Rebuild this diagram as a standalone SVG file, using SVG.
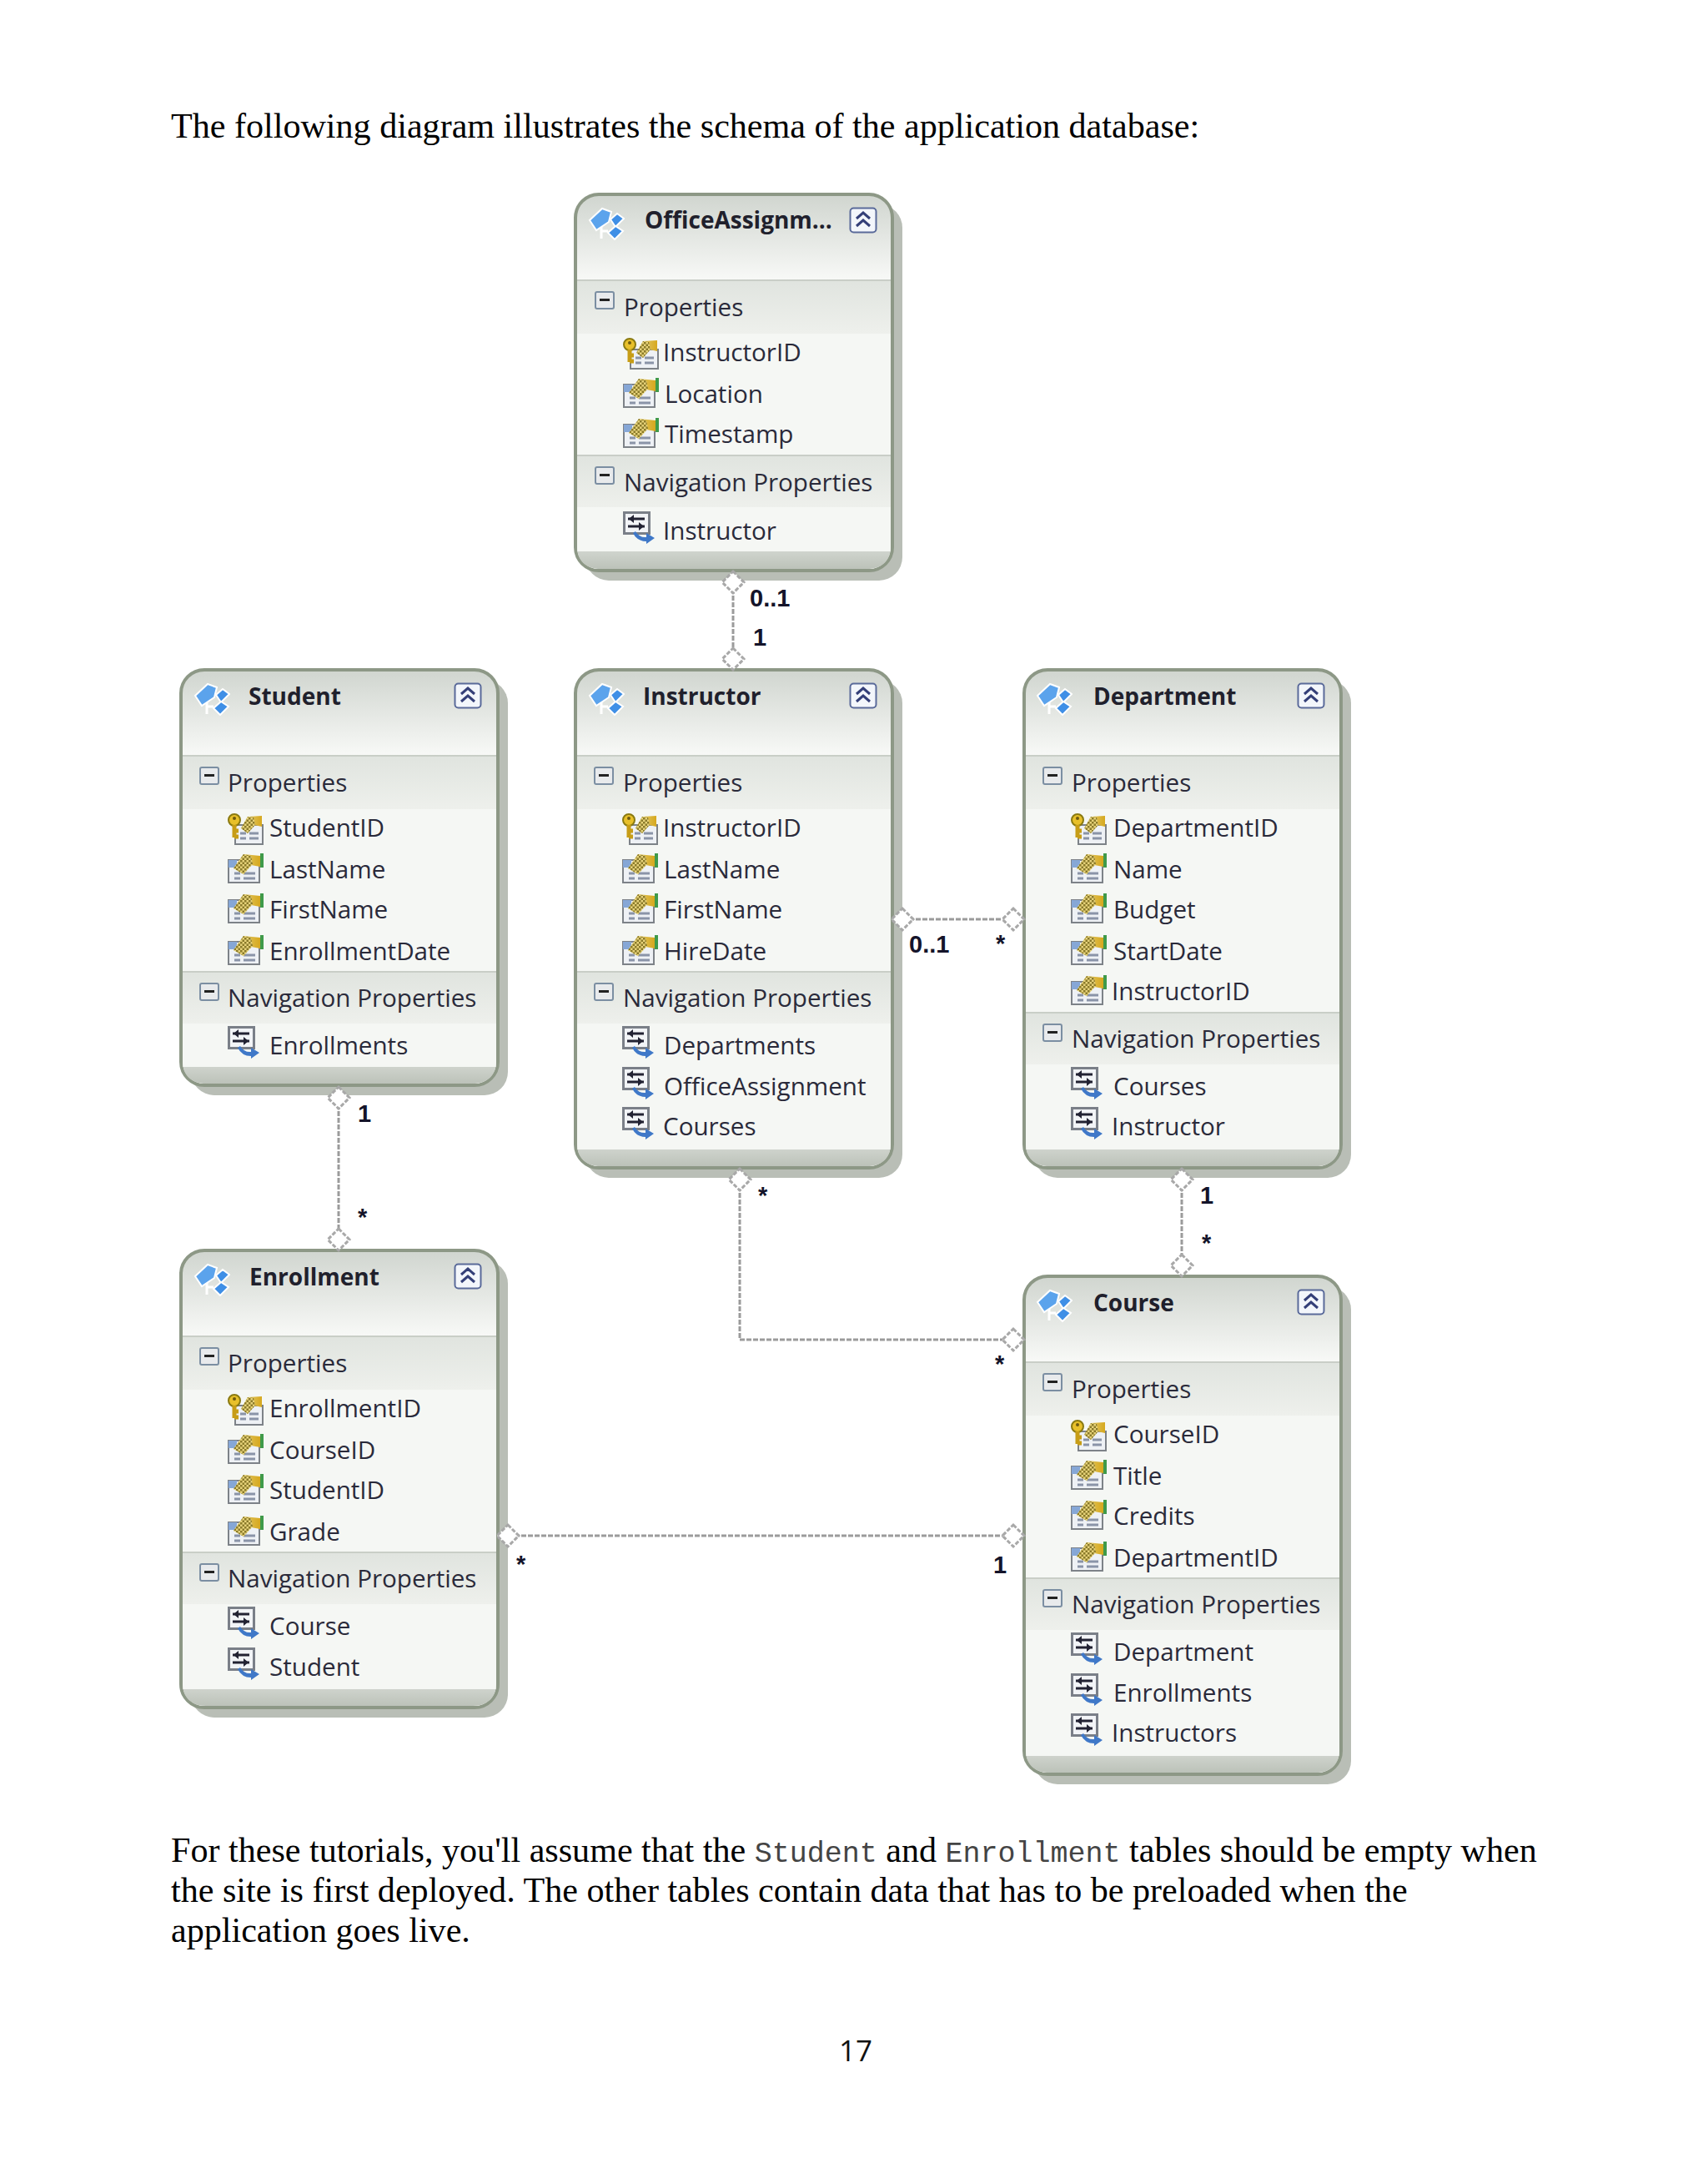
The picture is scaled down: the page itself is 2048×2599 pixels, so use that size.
<svg xmlns="http://www.w3.org/2000/svg" width="2048" height="2599" viewBox="0 0 2048 2599">
<style>
.pg{font-family:"Liberation Serif",serif;font-size:42.1px;fill:#000}
.mono{font-family:"Liberation Mono",monospace;font-size:35px;fill:#444}
.t{font-family:"Open Sans","Noto Sans",sans-serif;font-size:29.6px;fill:#2a2a3a}
.b{font-family:"Open Sans","Noto Sans",sans-serif;font-size:28px;font-weight:700;fill:#20202c}
.m{font-family:"Liberation Sans",sans-serif;font-size:29px;font-weight:700;fill:#14142a}
.shadow{fill:#b9beb6}
.box{stroke:#8d9886;stroke-width:4;fill:url(#hd)}
.band{fill:url(#bd)}
.body{fill:#f5f7f4}
.foot{fill:url(#ft)}
.div{stroke:#c9cec7;stroke-width:2}
.c{fill:none;stroke:#9b9b9b;stroke-width:3;stroke-dasharray:6 2}
.d{fill:#fff;stroke:#a8a8a8;stroke-width:3;stroke-dasharray:5 2}
</style>
<defs>
<linearGradient id="hd" gradientUnits="userSpaceOnUse" x1="0" y1="0" x2="0" y2="103"><stop offset="0" stop-color="#d0d5cf"/><stop offset="1" stop-color="#f8f9f7"/></linearGradient>
<linearGradient id="bd" x1="0" y1="0" x2="0" y2="1"><stop offset="0" stop-color="#e0e4df"/><stop offset="1" stop-color="#eef0ec"/></linearGradient>
<linearGradient id="ft" x1="0" y1="0" x2="0" y2="1"><stop offset="0" stop-color="#d4d8d2"/><stop offset="1" stop-color="#bcc2b9"/></linearGradient>
<pattern id="chk" width="5" height="5" patternUnits="userSpaceOnUse"><rect width="5" height="5" fill="#e6d27a"/><rect width="2.5" height="2.5" fill="#8a7a2a"/><rect x="2.5" y="2.5" width="2.5" height="2.5" fill="#8a7a2a"/></pattern>
<linearGradient id="yl" x1="0" y1="0" x2="1" y2="0"><stop offset="0" stop-color="#e8d98a"/><stop offset="1" stop-color="#d6a81e"/></linearGradient>
<symbol id="ent" viewBox="0 0 44 40" width="44" height="40">
<path d="M2 16 17 2 28 6 25 18 10 28Z" fill="#5ba3ec" stroke="#fff" stroke-width="2"/>
<path d="M16 24V38M16 29H24" stroke="#fff" stroke-width="3" fill="none"/>
<path d="M27 15 35 8 43 14 33 24Z" fill="#3f8fe6" stroke="#fff" stroke-width="2"/>
<path d="M24 31 33 23 42 29 32 39Z" fill="#3f8fe6" stroke="#fff" stroke-width="2"/>
</symbol>
<symbol id="col" viewBox="0 0 34 32" width="34" height="32">
<rect x="1.5" y="1.5" width="31" height="29" rx="4" fill="#f3f6fb" stroke="#5a6a9a" stroke-width="2"/>
<path d="M9 14 17 7 25 14M9 23 17 16 25 23" fill="none" stroke="#343f78" stroke-width="3"/>
</symbol>
<symbol id="min" viewBox="0 0 24 22" width="24" height="22">
<rect x="1" y="1" width="22" height="20" rx="2" fill="#e8eaec" stroke="#7b8ea2" stroke-width="2"/>
<rect x="6" y="9" width="12" height="3" fill="#222"/>
</symbol>
<symbol id="prop" viewBox="0 0 43 38" width="43" height="38">
<rect x="1" y="10" width="37" height="27" fill="#eef1f5" stroke="#7d8288" stroke-width="2"/>
<rect x="1" y="10" width="10" height="9" fill="#86a7d6"/>
<path d="M8 26H15M19 26H33M8 32H15M19 32H33" stroke="#8a94a8" stroke-width="3"/>
<path d="M7 20 19 3 39 5V18L28 16 19 27Z" fill="url(#yl)"/>
<path d="M7 20 19 3 28 5 30 15 19 27Z" fill="url(#chk)"/>
<rect x="39" y="2" width="4" height="17" fill="#3f9a4a"/>
</symbol>
<symbol id="key" viewBox="0 0 43 38" width="43" height="38">
<rect x="9" y="14" width="33" height="23" fill="#eef1f5" stroke="#7d8288" stroke-width="2"/>
<path d="M15 24H22M26 24H37M15 30H22M26 30H37" stroke="#8a94a8" stroke-width="3"/>
<path d="M16 18 24 4 41 3V16L32 14 24 24Z" fill="url(#yl)"/>
<path d="M16 18 24 4 31 5 33 14 24 24Z" fill="url(#chk)"/>
<circle cx="8" cy="8" r="7" fill="#e8c02a" stroke="#8a7a10" stroke-width="2"/>
<circle cx="8" cy="6" r="2" fill="#6d5a10"/>
<path d="M8 14V29M8 21H13M8 28H13" stroke="#c79d16" stroke-width="5" fill="none"/>
</symbol>
<symbol id="nav" viewBox="0 0 38 40" width="38" height="40">
<rect x="1.5" y="1.5" width="30" height="25" fill="#f2f4f7" stroke="#7a7f88" stroke-width="3"/>
<path d="M6 9H26M6 18H26" stroke="#223" stroke-width="3"/>
<path d="M7 9 13 4V14ZM25 18 19 13V23Z" fill="#223"/>
<path d="M15 24Q20 32 28 31V26L38 32 28 39V36Q17 36 12 26Z" fill="#3f78c8"/>
</symbol>
</defs>
<rect width="2048" height="2599" fill="#fff"/>

<text class="pg" x="205" y="165">The following diagram illustrates the schema of the application database:</text>

<g id="connectors">
<path class="c" d="M879 698V790"/>
<path class="c" d="M406 1316V1486"/>
<path class="c" d="M1082 1102H1216"/>
<path class="c" d="M1417 1414V1517"/>
<path class="c" d="M887 1414V1606H1216"/>
<path class="c" d="M609 1841H1216"/>
</g>

<g id="node-office" transform="translate(690 233)">
<rect class="shadow" x="12" y="12" width="380" height="451" rx="28"/>
<rect class="box" width="380" height="451" rx="28"/>
<rect class="body" x="2" y="167" width="376" height="261"/>
<path class="foot" d="M2 428H378V423C378 440 366 449 350 449H30C14 449 2 440 2 423Z"/>
<rect class="band" x="2" y="103" width="376" height="64"/>
<rect class="band" x="2" y="313" width="376" height="62"/>
<path class="div" d="M2 103H378M2 313H378"/>
<use href="#ent" x="15" y="15"/><text class="b" x="83" y="41">OfficeAssignm...</text><use href="#col" x="328" y="15"/>
<use href="#min" x="23" y="116"/><text class="t" x="58" y="146">Properties</text>
<use href="#key" x="57" y="172"/><text class="t" x="105" y="200">InstructorID</text>
<use href="#prop" x="57" y="218"/><text class="t" x="107" y="250">Location</text>
<use href="#prop" x="57" y="266"/><text class="t" x="107" y="298">Timestamp</text>
<use href="#min" x="23" y="326"/><text class="t" x="58" y="356">Navigation Properties</text>
<use href="#nav" x="57" y="380"/><text class="t" x="105" y="414">Instructor</text>
</g>

<g id="node-student" transform="translate(217 803)">
<rect class="shadow" x="12" y="12" width="380" height="498" rx="28"/>
<rect class="box" width="380" height="498" rx="28"/>
<rect class="body" x="2" y="167" width="376" height="309"/>
<path class="foot" d="M2 476H378V470C378 487 366 496 350 496H30C14 496 2 487 2 470Z"/>
<rect class="band" x="2" y="103" width="376" height="64"/>
<rect class="band" x="2" y="362" width="376" height="62"/>
<path class="div" d="M2 103H378M2 362H378"/>
<use href="#ent" x="15" y="15"/><text class="b" x="81" y="42">Student</text><use href="#col" x="327" y="15"/>
<use href="#min" x="22" y="116"/><text class="t" x="56" y="146">Properties</text>
<use href="#key" x="56" y="172"/><text class="t" x="106" y="200">StudentID</text>
<use href="#prop" x="56" y="218"/><text class="t" x="106" y="250">LastName</text>
<use href="#prop" x="56" y="266"/><text class="t" x="106" y="298">FirstName</text>
<use href="#prop" x="56" y="316"/><text class="t" x="106" y="348">EnrollmentDate</text>
<use href="#min" x="22" y="375"/><text class="t" x="56" y="404">Navigation Properties</text>
<use href="#nav" x="56" y="427"/><text class="t" x="106" y="461">Enrollments</text>
</g>

<g id="node-instructor" transform="translate(690 803)">
<rect class="shadow" x="12" y="12" width="380" height="597" rx="28"/>
<rect class="box" width="380" height="597" rx="28"/>
<rect class="body" x="2" y="167" width="376" height="408"/>
<path class="foot" d="M2 575H378V569C378 586 366 595 350 595H30C14 595 2 586 2 569Z"/>
<rect class="band" x="2" y="103" width="376" height="64"/>
<rect class="band" x="2" y="362" width="376" height="62"/>
<path class="div" d="M2 103H378M2 362H378"/>
<use href="#ent" x="15" y="15"/><text class="b" x="81" y="42">Instructor</text><use href="#col" x="328" y="15"/>
<use href="#min" x="22" y="116"/><text class="t" x="57" y="146">Properties</text>
<use href="#key" x="56" y="172"/><text class="t" x="105" y="200">InstructorID</text>
<use href="#prop" x="56" y="218"/><text class="t" x="106" y="250">LastName</text>
<use href="#prop" x="56" y="266"/><text class="t" x="106" y="298">FirstName</text>
<use href="#prop" x="56" y="316"/><text class="t" x="106" y="348">HireDate</text>
<use href="#min" x="22" y="375"/><text class="t" x="57" y="404">Navigation Properties</text>
<use href="#nav" x="56" y="427"/><text class="t" x="106" y="461">Departments</text>
<use href="#nav" x="56" y="476"/><text class="t" x="106" y="510">OfficeAssignment</text>
<use href="#nav" x="56" y="524"/><text class="t" x="105" y="558">Courses</text>
</g>

<g id="node-department" transform="translate(1228 803)">
<rect class="shadow" x="12" y="12" width="380" height="597" rx="28"/>
<rect class="box" width="380" height="597" rx="28"/>
<rect class="body" x="2" y="167" width="376" height="408"/>
<path class="foot" d="M2 575H378V569C378 586 366 595 350 595H30C14 595 2 586 2 569Z"/>
<rect class="band" x="2" y="103" width="376" height="64"/>
<rect class="band" x="2" y="411" width="376" height="62"/>
<path class="div" d="M2 103H378M2 411H378"/>
<use href="#ent" x="14" y="15"/><text class="b" x="83" y="42">Department</text><use href="#col" x="327" y="15"/>
<use href="#min" x="22" y="116"/><text class="t" x="57" y="146">Properties</text>
<use href="#key" x="56" y="172"/><text class="t" x="107" y="200">DepartmentID</text>
<use href="#prop" x="56" y="218"/><text class="t" x="107" y="250">Name</text>
<use href="#prop" x="56" y="266"/><text class="t" x="107" y="298">Budget</text>
<use href="#prop" x="56" y="316"/><text class="t" x="107" y="348">StartDate</text>
<use href="#prop" x="56" y="364"/><text class="t" x="105" y="396">InstructorID</text>
<use href="#min" x="22" y="424"/><text class="t" x="57" y="453">Navigation Properties</text>
<use href="#nav" x="56" y="476"/><text class="t" x="107" y="510">Courses</text>
<use href="#nav" x="56" y="524"/><text class="t" x="105" y="558">Instructor</text>
</g>

<g id="node-enrollment" transform="translate(217 1499)">
<rect class="shadow" x="12" y="12" width="380" height="548" rx="28"/>
<rect class="box" width="380" height="548" rx="28"/>
<rect class="body" x="2" y="167" width="376" height="359"/>
<path class="foot" d="M2 526H378V520C378 537 366 546 350 546H30C14 546 2 537 2 520Z"/>
<rect class="band" x="2" y="103" width="376" height="64"/>
<rect class="band" x="2" y="362" width="376" height="62"/>
<path class="div" d="M2 103H378M2 362H378"/>
<use href="#ent" x="15" y="15"/><text class="b" x="82" y="42">Enrollment</text><use href="#col" x="327" y="15"/>
<use href="#min" x="22" y="116"/><text class="t" x="56" y="146">Properties</text>
<use href="#key" x="56" y="172"/><text class="t" x="106" y="200">EnrollmentID</text>
<use href="#prop" x="56" y="218"/><text class="t" x="106" y="250">CourseID</text>
<use href="#prop" x="56" y="266"/><text class="t" x="106" y="298">StudentID</text>
<use href="#prop" x="56" y="316"/><text class="t" x="106" y="348">Grade</text>
<use href="#min" x="22" y="375"/><text class="t" x="56" y="404">Navigation Properties</text>
<use href="#nav" x="56" y="427"/><text class="t" x="106" y="461">Course</text>
<use href="#nav" x="56" y="476"/><text class="t" x="106" y="510">Student</text>
</g>

<g id="node-course" transform="translate(1228 1530)">
<rect class="shadow" x="12" y="12" width="380" height="597" rx="28"/>
<rect class="box" width="380" height="597" rx="28"/>
<rect class="body" x="2" y="167" width="376" height="408"/>
<path class="foot" d="M2 575H378V569C378 586 366 595 350 595H30C14 595 2 586 2 569Z"/>
<rect class="band" x="2" y="103" width="376" height="64"/>
<rect class="band" x="2" y="362" width="376" height="62"/>
<path class="div" d="M2 103H378M2 362H378"/>
<use href="#ent" x="14" y="15"/><text class="b" x="83" y="42">Course</text><use href="#col" x="327" y="15"/>
<use href="#min" x="22" y="116"/><text class="t" x="57" y="146">Properties</text>
<use href="#key" x="56" y="172"/><text class="t" x="107" y="200">CourseID</text>
<use href="#prop" x="56" y="218"/><text class="t" x="107" y="250">Title</text>
<use href="#prop" x="56" y="266"/><text class="t" x="107" y="298">Credits</text>
<use href="#prop" x="56" y="316"/><text class="t" x="107" y="348">DepartmentID</text>
<use href="#min" x="22" y="375"/><text class="t" x="57" y="404">Navigation Properties</text>
<use href="#nav" x="56" y="427"/><text class="t" x="107" y="461">Department</text>
<use href="#nav" x="56" y="476"/><text class="t" x="107" y="510">Enrollments</text>
<use href="#nav" x="56" y="524"/><text class="t" x="105" y="558">Instructors</text>
</g>

<g id="ends">
<path class="d" d="M879 685 892 698 879 711 866 698Z"/>
<path class="d" d="M879 777 892 790 879 803 866 790Z"/>
<path class="d" d="M406 1303 419 1316 406 1329 393 1316Z"/>
<path class="d" d="M406 1473 419 1486 406 1499 393 1486Z"/>
<path class="d" d="M1082 1089 1095 1102 1082 1115 1069 1102Z"/>
<path class="d" d="M1215 1089 1228 1102 1215 1115 1202 1102Z"/>
<path class="d" d="M1417 1401 1430 1414 1417 1427 1404 1414Z"/>
<path class="d" d="M1417 1504 1430 1517 1417 1530 1404 1517Z"/>
<path class="d" d="M887 1401 900 1414 887 1427 874 1414Z"/>
<path class="d" d="M1215 1593 1228 1606 1215 1619 1202 1606Z"/>
<path class="d" d="M609 1828 622 1841 609 1854 596 1841Z"/>
<path class="d" d="M1215 1828 1228 1841 1215 1854 1202 1841Z"/>
<text class="m" x="899" y="727">0..1</text>
<text class="m" x="903" y="774">1</text>
<text class="m" x="429" y="1345">1</text>
<text class="m" x="429" y="1469">*</text>
<text class="m" x="1090" y="1142">0..1</text>
<text class="m" x="1194" y="1141">*</text>
<text class="m" x="1439" y="1443">1</text>
<text class="m" x="1441" y="1500">*</text>
<text class="m" x="909" y="1443">*</text>
<text class="m" x="1193" y="1645">*</text>
<text class="m" x="619" y="1885">*</text>
<text class="m" x="1191" y="1886">1</text>
</g>

<text class="pg" x="205" y="2232">For these tutorials, you'll assume that the <tspan class="mono">Student</tspan> and <tspan class="mono">Enrollment</tspan> tables should be empty when</text>
<text class="pg" x="205" y="2280">the site is first deployed. The other tables contain data that has to be preloaded when the</text>
<text class="pg" x="205" y="2328">application goes live.</text>
<text x="1006" y="2471" font-family="Open Sans, sans-serif" font-size="35" fill="#111">17</text>
</svg>
